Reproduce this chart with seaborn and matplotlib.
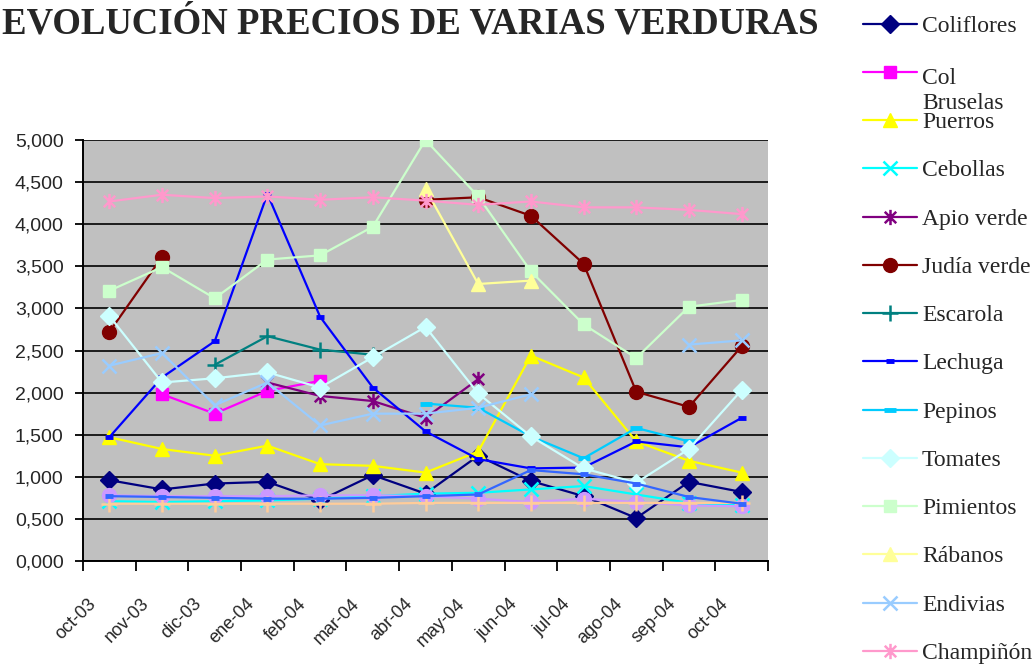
import numpy as np
import pandas as pd
import matplotlib
matplotlib.use("Agg")
import matplotlib.pyplot as plt
from matplotlib.lines import Line2D
from matplotlib.path import Path
from matplotlib.transforms import ScaledTranslation
import seaborn as sns

nan = np.nan

# Monthly prices (euros)
months = ["oct-03", "nov-03", "dic-03", "ene-04", "feb-04", "mar-04", "abr-04",
          "may-04", "jun-04", "jul-04", "ago-04", "sep-04", "oct-04"]

coliflores = [0.96, 0.85, 0.92, 0.94, 0.72, 1.02, 0.80, 1.25, 0.95, 0.77, 0.51, 0.94, 0.82]
col_bruselas = [nan, 1.98, 1.75, 2.02, 2.14, nan, nan, nan, nan, nan, nan, nan, nan]
puerros = [1.47, 1.33, 1.25, 1.37, 1.15, 1.13, 1.05, 1.30, 2.44, 2.18, 1.42, 1.19, 1.05]
cebollas = [0.71, 0.70, 0.71, 0.72, 0.74, 0.77, 0.80, 0.81, 0.85, 0.89, 0.79, 0.69, 0.66]
apio_verde = [nan, nan, nan, 2.12, 1.96, 1.90, 1.70, 2.16, nan, nan, nan, nan, nan]
judia_verde = [2.72, 3.61, nan, nan, nan, nan, 4.29, 4.32, 4.10, 3.53, 2.01, 1.83, 2.55]
escarola = [nan, nan, 2.33, 2.67, 2.51, 2.45, nan, nan, nan, nan, nan, nan, nan]
lechuga = [1.47, 2.18, 2.61, 4.36, 2.90, 2.06, 1.54, 1.21, 1.10, 1.11, 1.42, 1.35, 1.70]
pepinos = [nan, nan, nan, nan, nan, nan, 1.87, 1.82, 1.48, 1.22, 1.58, 1.42, nan]
tomates = [2.91, 2.12, 2.17, 2.24, 2.06, 2.42, 2.78, 1.99, 1.48, 1.10, 0.93, 1.33, 2.03]
pimientos = [3.21, 3.49, 3.12, 3.58, 3.63, 3.97, 5.00, 4.33, 3.44, 2.81, 2.41, 3.02, 3.10]
rabanos = [nan, nan, nan, nan, nan, nan, 4.42, 3.29, 3.33, nan, nan, nan, nan]
endivias = [2.32, 2.47, 1.85, 2.12, 1.61, 1.75, 1.75, 1.82, 1.98, nan, nan, 2.57, 2.62]
champinon = [4.27, 4.35, 4.31, 4.33, 4.29, 4.32, 4.28, 4.23, 4.27, 4.20, 4.20, 4.17, 4.12]
# three more series whose legend entries fall outside the original picture
serie_15 = [0.78, 0.77, 0.77, 0.77, 0.78, 0.78, 0.77, 0.74, 0.70, 0.74, 0.70, 0.66, 0.65]
serie_16 = [0.68, 0.68, 0.68, 0.68, 0.68, 0.68, 0.69, 0.69, 0.69, 0.69, 0.69, 0.69, 0.69]
serie_17 = [0.77, 0.76, 0.75, 0.74, 0.74, 0.75, 0.77, 0.79, 1.08, 1.03, 0.92, 0.76, 0.68]

# Excel-like asterisk marker
star = Path([(0, -1), (0, 1), (-0.75, -0.75), (0.75, 0.75), (-0.75, 0.75), (0.75, -0.75)],
            [Path.MOVETO, Path.LINETO] * 3)

# name, values, colour, marker, marker size, marker edge width, in legend
series = [
    ("Coliflores", coliflores, "#000080", "D", 9, 1, True),
    ("Col\nBruselas", col_bruselas, "#FF00FF", "s", 9, 1, True),
    ("Puerros", puerros, "#FFFF00", "^", 10.5, 1, True),
    ("Cebollas", cebollas, "#00FFFF", "x", 9.5, 1.8, True),
    ("Apio verde", apio_verde, "#800080", star, 11, 1.8, True),
    ("Judía verde", judia_verde, "#800000", "o", 10, 1, True),
    ("Escarola", escarola, "#008080", "+", 11, 1.8, True),
    ("Lechuga", lechuga, "#0000FF", "_", 6, 3.5, True),
    ("Pepinos", pepinos, "#00CCFF", "_", 9, 3.5, True),
    ("Tomates", tomates, "#CCFFFF", "D", 9, 1, True),
    ("Pimientos", pimientos, "#CCFFCC", "s", 9, 1, True),
    ("Rábanos", rabanos, "#FFFF99", "^", 10.5, 1, True),
    ("Endivias", endivias, "#99CCFF", "x", 9.5, 1.8, True),
    ("Champiñón", champinon, "#FF99CC", star, 11, 1.8, True),
    ("serie 15", serie_15, "#CC99FF", "o", 10, 1, False),
    ("serie 16", serie_16, "#FFCC99", "+", 11, 1.8, False),
    ("serie 17", serie_17, "#3366FF", "_", 6, 3.5, False),
]

sns.set_theme(style="ticks")
plt.rcParams["font.family"] = ["Liberation Sans", "DejaVu Sans"]

W, H = 1036, 664
fig = plt.figure(figsize=(W / 100, H / 100), dpi=100)
ax = fig.add_axes([83 / W, 1 - 561 / H, 685 / W, 421 / H])
ax.set_facecolor("#C0C0C0")

x = np.arange(len(months))
for name, vals, color, marker, ms, mew, _ in series:
    s = pd.Series(vals, dtype=float)
    df = pd.DataFrame({"x": x, "y": s, "seg": s.isna().cumsum()}).dropna()
    # plot each unbroken run separately so gaps stay open
    for _, part in df.groupby("seg"):
        sns.lineplot(data=part, x="x", y="y", ax=ax, color=color, linewidth=1.6,
                     marker=marker, markersize=ms, markeredgecolor=color,
                     markeredgewidth=mew, markerfacecolor=color, legend=False)

ax.set_xlabel("")
ax.set_ylabel("")
ax.set_xlim(-0.5, len(months) - 0.5)
ax.set_ylim(0, 5)

ax.set_yticks(np.arange(0, 5.01, 0.5))
ax.set_yticklabels([f"{v:.3f}".replace(".", ",") for v in np.arange(0, 5.01, 0.5)], fontsize=14)
ax.grid(axis="y", color="black", linewidth=1.2)
ax.set_axisbelow(True)

ax.set_xticks(np.arange(-0.5, len(months), 1))
ax.set_xticklabels([])
ax.set_xticks(x, minor=True)
ax.set_xticklabels(months, minor=True, rotation=45, ha="right", va="center",
                   rotation_mode="anchor", fontsize=13)
ax.tick_params(axis="x", which="minor", length=0, pad=29)
ax.tick_params(axis="x", which="major", length=7, width=1.3, color="black", direction="out")
ax.tick_params(axis="y", length=6, width=1.3, color="black", direction="out", pad=8)
for lab in ax.get_xticklabels(minor=True):
    lab.set_transform(lab.get_transform() + ScaledTranslation(-0.16, 0, fig.dpi_scale_trans))

for side in ["top", "right"]:
    ax.spines[side].set_visible(False)
for side in ["left", "bottom"]:
    ax.spines[side].set_color("black")
    ax.spines[side].set_linewidth(1.4)

fig.text(2 / W, 1 - 34 / H, "EVOLUCIÓN PRECIOS DE VARIAS VERDURAS", ha="left",
         va="baseline", fontsize=26.5, fontweight="bold",
         family=["Liberation Serif", "DejaVu Serif"])

# legend column on the right, drawn entry by entry like Excel's
shown = [s for s in series if s[6]]
for i, (name, vals, color, marker, ms, mew, _) in enumerate(shown):
    ypx = 23.6 + 48.26 * i
    yc = 1 - ypx / H
    fig.add_artist(Line2D([863 / W, 917 / W], [yc, yc], transform=fig.transFigure,
                          color=color, linewidth=1.6))
    fig.add_artist(Line2D([890 / W], [yc], transform=fig.transFigure, color=color,
                          marker=marker, markersize=ms, markeredgecolor=color,
                          markeredgewidth=mew, markerfacecolor=color))
    # baseline of the last line; wrapped labels hang below their entry
    nlines = name.count("\n") + 1
    fig.text(922 / W, 1 - (ypx + 8 + 29.5 * (nlines - 1)) / H, name, ha="left",
             va="baseline", fontsize=17, linespacing=1.25,
             family=["Liberation Serif", "DejaVu Serif"])

fig.savefig("out.png", dpi=100)
